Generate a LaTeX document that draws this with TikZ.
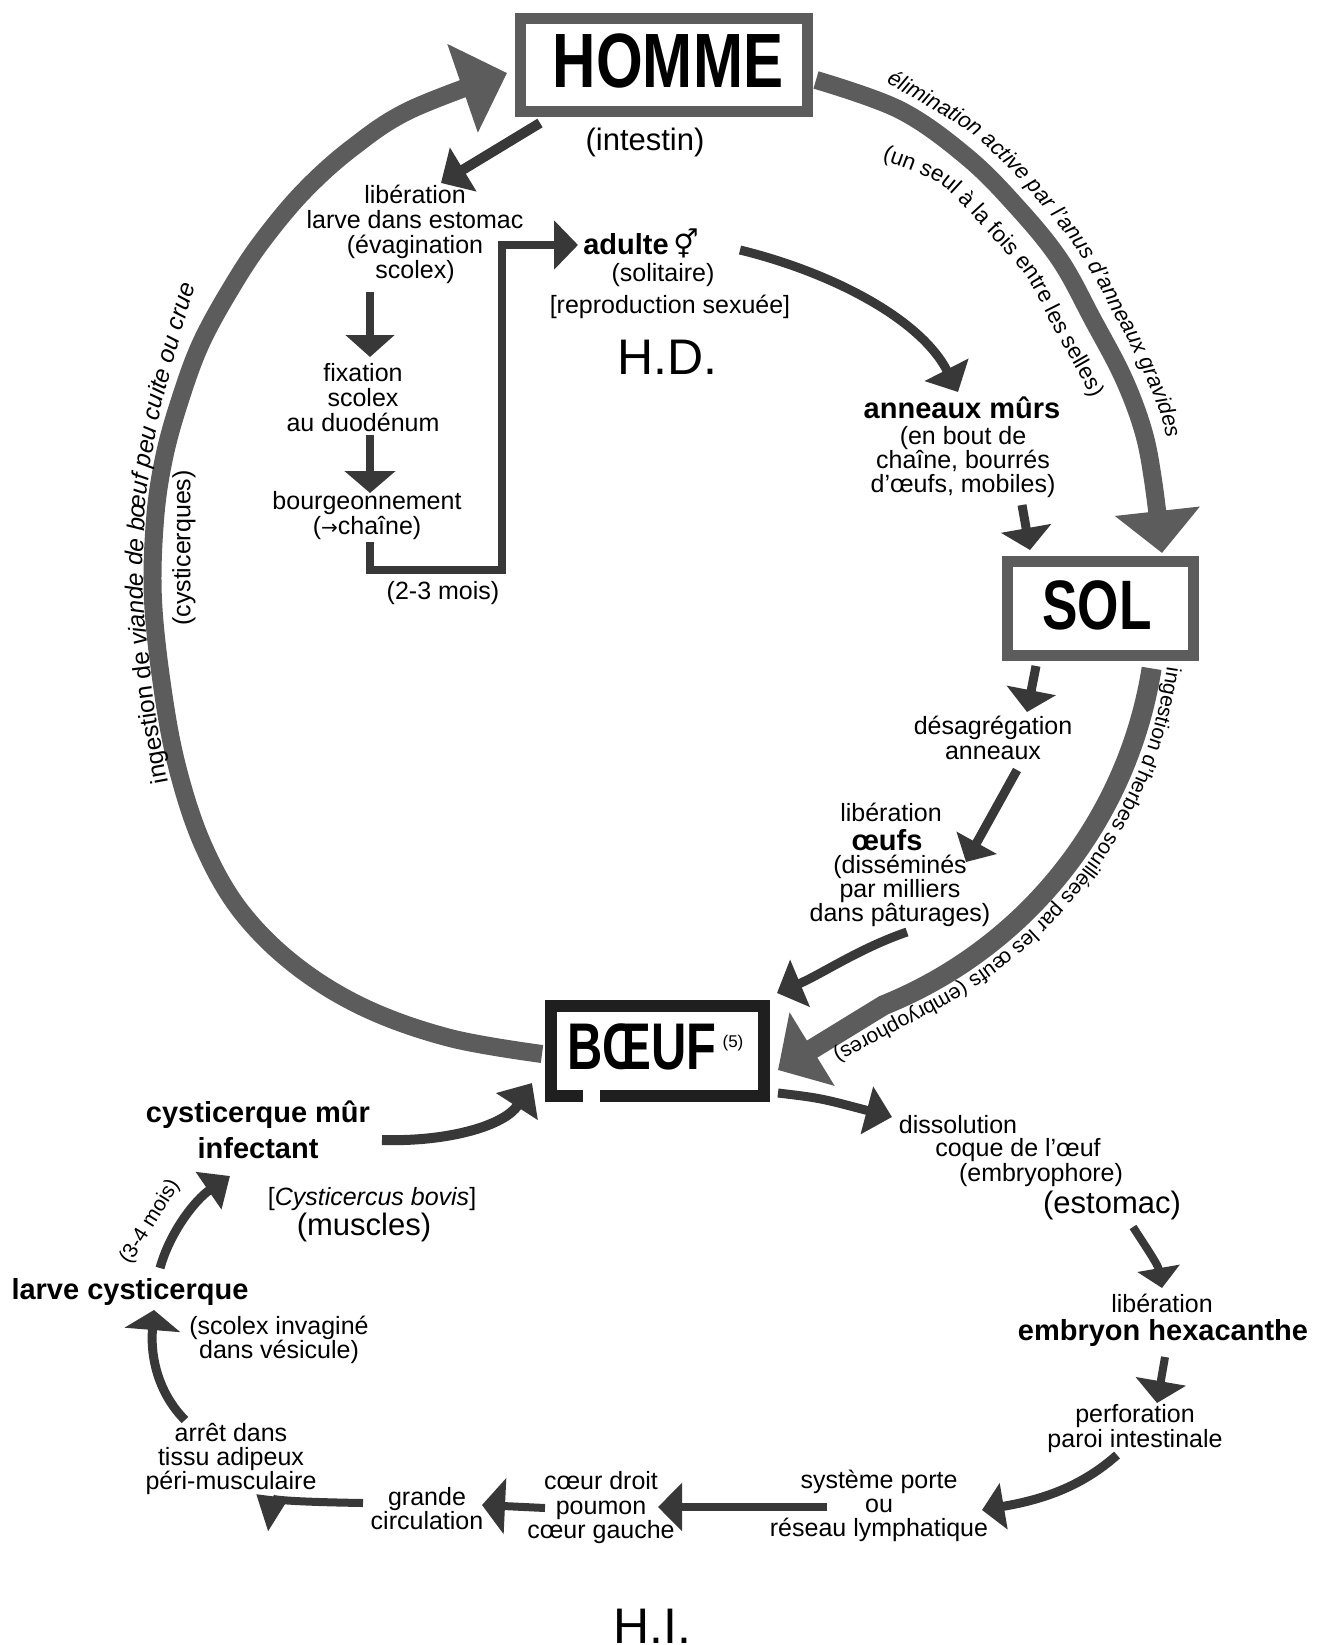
\documentclass[tikz,border=0pt]{standalone}
\usepackage{fontspec}
\setmainfont{Liberation Sans}
\newfontfamily\symfont{DejaVu Sans}
\usetikzlibrary{arrows.meta,decorations.text}
\newcommand\fz[1]{\fontsize{#1}{#1}\selectfont}
\newcommand\fzl[2]{\fontsize{#1}{#2}\selectfont}
\tikzset{
  lbl/.style={inner sep=0pt, align=center, font=\fz{25}},
  lblb/.style={inner sep=0pt, align=center, font=\fzl{29}{36}\bfseries},
  lblbig/.style={inner sep=0pt, font=\fz{31}},
  bigtag/.style={inner sep=0pt, font=\fz{50}},
  hostframe/.style={draw=black!64, line width=11pt, inner sep=0pt},
  hostname/.style={inner sep=0pt, font=\fz{#1}\bfseries},
  loopline/.style={draw=black!64, line width=18pt},
  flowline/.style={draw=black!78, line width=8pt},
  tri/.style 2 args={-{Triangle[length=#1pt,width=#2pt]}},
  curvetext/.style={decorate, decoration={text along path,
      text format delimiters={|}{|}, text={#1}}},
}
\begin{document}
\begin{tikzpicture}[x=1pt,y=-1pt]
\fill[white] (0,0) rectangle (1329,1645);
\useasboundingbox (0,0) rectangle (1329,1645);

% ---------- the three hosts ----------
\node[hostframe, minimum width=287pt, minimum height=93pt] (homme) at (664,65) {};
\node[hostname=77] (hommet) at (668,61) {\scalebox{0.78}[1]{HOMME}};
\node[hostframe, minimum width=186pt, minimum height=94pt] (sol) at (1100.5,608.5) {};
\node[hostname=70] (solt) at (1097,605) {\scalebox{0.76}[1]{SOL}};
\node[inner sep=0pt, minimum width=213pt, minimum height=90pt] (boeuf) at (657.5,1051) {};
\draw[draw=black!88, line width=12pt, line join=miter]
  ([xshift=32pt]boeuf.south west) -- (boeuf.south west) -- (boeuf.north west)
  -- (boeuf.north east) -- (boeuf.south east) -- ([xshift=49pt]boeuf.south west);
\node[hostname=66] (boeuft) at (642,1047) {\scalebox{0.74}[1]{BŒUF}};
\node[inner sep=0pt, font=\fz{17}] (note5) at (733,1043) {(5)};

% ---------- definitive host (man) ----------
\node[lblbig] (intestin) at (645,142) {(intestin)};
\node[lbl] (larvest) at (415,234.5) {libération\\larve dans estomac\\(évagination\\scolex)};
\node[lbl] (fixation) at (363,397.5) {fixation\\scolex\\au duodénum};
\node[lbl] (bourg) at (367,515.5) {bourgeonnement\\({\symfont\fz{20}→}chaîne)};
\node[lbl] (mois23) at (443,593) {(2-3 mois)};
\node[lblb] (adulte) at (641,243) {adulte\,{\symfont\mdseries\fz{28}⚥}};
\node[lbl] (solit) at (663,275) {(solitaire)};
\node[lbl] (repro) at (670,307) {[reproduction sexuée]};
\node[bigtag] (hd) at (667,357) {H.D.};
\node[lblb] (anneaux) at (962,408) {anneaux mûrs};
\node[lbl, font=\fzl{25}{24}] (enbout) at (963,462) {(en bout de\\chaîne, bourrés\\d'œufs, mobiles)};

% ---------- soil ----------
\node[lbl] (desag) at (993,738) {désagrégation\\anneaux};
\node[lbl] (liboeufs) at (891,812) {libération};
\node[lblb] (oeufs) at (887,840) {œufs};
\node[lbl, font=\fzl{25}{24}] (dissem) at (900,891) {(disséminés\\par milliers\\dans pâturages)};

% ---------- intermediate host (cattle) ----------
\node[lbl] (dissol1) at (958,1125) {dissolution};
\node[lbl] (dissol2) at (1018,1150) {coque de l'œuf};
\node[lbl] (dissol3) at (1041,1175) {(embryophore)};
\node[lblbig] (estomac) at (1112,1205) {(estomac)};
\node[lbl] (libemb) at (1162,1303) {libération};
\node[lblb] (embryon) at (1163,1333) {embryon hexacanthe};
\node[lbl, font=\fzl{25}{23}] (perfo) at (1135,1428.5) {perforation\\paroi intestinale};
\node[lbl, font=\fzl{25}{24}] (systeme) at (879,1506) {système porte\\ou\\réseau lymphatique};
\node[lbl, font=\fzl{25}{24.5}] (coeur) at (601,1508) {cœur droit\\poumon\\cœur gauche};
\node[lbl, font=\fzl{25}{23}] (grande) at (427,1508.5) {grande\\circulation};
\node[lbl, font=\fzl{25}{24}] (arret) at (231,1459) {arrêt dans\\tissu adipeux\\péri-musculaire};
\node[lblb] (larve) at (130,1292) {larve cysticerque};
\node[lbl, font=\fzl{25}{24}] (scolex) at (279,1340) {(scolex invaginé\\dans vésicule)};
\node[inner sep=0pt, font=\fz{21}, rotate=58] (mois34) at (150,1222) {(3-4 mois)};
\node[lblb] (cystmur) at (258,1130) {cysticerque mûr\\infectant};
\node[lbl] (bovis) at (372,1199) {[{\itshape Cysticercus bovis}]};
\node[lblbig] (muscles) at (364,1227) {(muscles)};
\node[bigtag, anchor=base] (hi) at (652,1643) {H.I.};
\node[lbl, rotate=90] (cystq) at (184,548) {(cysticerques)};

% ---------- main cycle ----------
\draw[loopline, tri={42}{83}] plot[smooth, tension=0.6] coordinates
  {(816,80) (900,110) (967,157) (1017,207) (1060,260) (1093,320) (1123,377) (1143,430) (1153,480) (1162,553)};
\draw[loopline, line width=20pt, tri={40}{84}]
  (1151.6,668.4) arc[start angle=9, end angle=68, radius=437] -- (778,1070);
\draw[loopline, tri={47}{91}] plot[smooth, tension=0.6] coordinates
  {(542,1054) (450,1038) (365,1008) (295,965) (240,910) (203,845) (178,770) (163,692) (153,600) (155,520) (164,458) (180,400) (202,341) (236,280) (266,236) (305,190) (352,148) (410,110) (507,73)};

% ---------- labels along the cycle ----------
\path[curvetext={|\fz{24.5}|ingestion de |\fz{24.5}\itshape|viande de bœuf peu cuite ou crue}]
  plot[smooth] coordinates {(168,782) (157,720) (148,650) (143,575) (146,500) (153,450) (163,400) (178,345) (194,290) (213,240) (238,190)};
\path[curvetext={|\fz{22}\itshape|élimination active par l'anus d'anneaux gravides}]
  plot[smooth] coordinates {(886,83) (946,117) (982,142) (1033,194) (1078,250) (1112,310) (1143,370) (1164,425) (1174,479) (1178,540)};
\path[curvetext={|\fz{22.5}|(un seul à la fois entre les selles)}]
  plot[smooth] coordinates {(882,160) (940,184) (987,231) (1027,278) (1059,338) (1088,390) (1106,438) (1114,480)};
\path[curvetext={|\fz{21}|ingestion d'herbes souillées par les œufs (embryophores)}]
  (1167.1,666.8) arc[start angle=8.5, end angle=62, radius=452] -- (800,1069);

% ---------- steps inside man ----------
\coordinate (c1a) at (540,123); \coordinate (c1b) at (441,183);
\draw[flowline, line width=10pt, tri={26}{50}] (c1a) -- (c1b);
\coordinate (d1a) at (370,292); \coordinate (d1b) at (370,357);
\draw[flowline, tri={22}{48}] (d1a) -- (d1b);
\coordinate (d2a) at (370,435); \coordinate (d2b) at (370,493);
\draw[flowline, tri={22}{50}] (d2a) -- (d2b);
\coordinate (br1) at (370,542); \coordinate (brc) at (502,570);
\coordinate (brt) at (502,245); \coordinate (br2) at (578,245);
\draw[flowline, line join=miter, tri={24}{48}] (br1) |- (brc) -- (brt) -- (br2);
\coordinate (c4a) at (740,250); \coordinate (c4b) at (958,392);
\draw[flowline, line width=9pt, tri={25}{48}] (c4a) .. controls (830,272) and (920,318) .. (c4b);
\coordinate (c5a) at (1022,505); \coordinate (c5b) at (1030,550);
\draw[flowline, line width=9pt, tri={22}{50}] (c5a) -- (c5b);

% ---------- steps on the soil ----------
\coordinate (c6a) at (1036,666); \coordinate (c6b) at (1027,712);
\draw[flowline, line width=9pt, tri={22}{49}] (c6a) -- (c6b);
\coordinate (c7a) at (1017,770); \coordinate (c7b) at (966,862);
\draw[flowline, line width=9pt, tri={22}{45}] (c7a) -- (c7b);
\coordinate (c8a) at (907,932); \coordinate (c8b) at (777,993);
\draw[flowline, line width=9pt, tri={25}{50}] (c8a) .. controls (860,948) and (820,975) .. (c8b);

% ---------- steps inside cattle ----------
\coordinate (c9a) at (778,1093); \coordinate (c9b) at (892,1117);
\draw[flowline, line width=9pt, tri={26}{48}] (c9a) .. controls (820,1098) .. (c9b);
\coordinate (c10a) at (1133,1227); \coordinate (c10b) at (1162,1288);
\draw[flowline, tri={20}{42}] (c10a) .. controls (1148,1250) and (1158,1265) .. (c10b);
\coordinate (c11a) at (1165,1357); \coordinate (c11b) at (1157,1403);
\draw[flowline, tri={22}{50}] (c11a) -- (c11b);
\coordinate (c12a) at (1117,1455); \coordinate (c12b) at (982,1510);
\draw[flowline, line width=9pt, tri={22}{46}] (c12a) .. controls (1080,1488) and (1040,1500) .. (c12b);
\coordinate (c13a) at (827,1507); \coordinate (c13b) at (658,1507);
\draw[flowline, tri={24}{47}] (c13a) -- (c13b);
\coordinate (c14a) at (545,1508); \coordinate (c14b) at (482,1505);
\draw[flowline, tri={23}{55}] (c14a) -- (c14b);
\coordinate (c15a) at (363,1503); \coordinate (c15b) at (268,1532);
\draw[flowline, tri={36}{30}] (c15a) .. controls (300,1502) and (272,1500) .. (c15b);
\coordinate (c16a) at (185,1420); \coordinate (c16b) at (154,1310);
\draw[flowline, line width=9pt, tri={20}{55}] (c16a) .. controls (160,1395) and (150,1360) .. (c16b);
\coordinate (c17a) at (160,1268); \coordinate (c17b) at (230,1176);
\draw[flowline, line width=9pt, tri={26}{44}] (c17a) .. controls (170,1232) and (195,1200) .. (c17b);
\coordinate (c18a) at (382,1140); \coordinate (c18b) at (532,1083);
\draw[flowline, line width=10pt, tri={28}{48}] (c18a) .. controls (450,1142) and (505,1125) .. (c18b);
\end{tikzpicture}
\end{document}
